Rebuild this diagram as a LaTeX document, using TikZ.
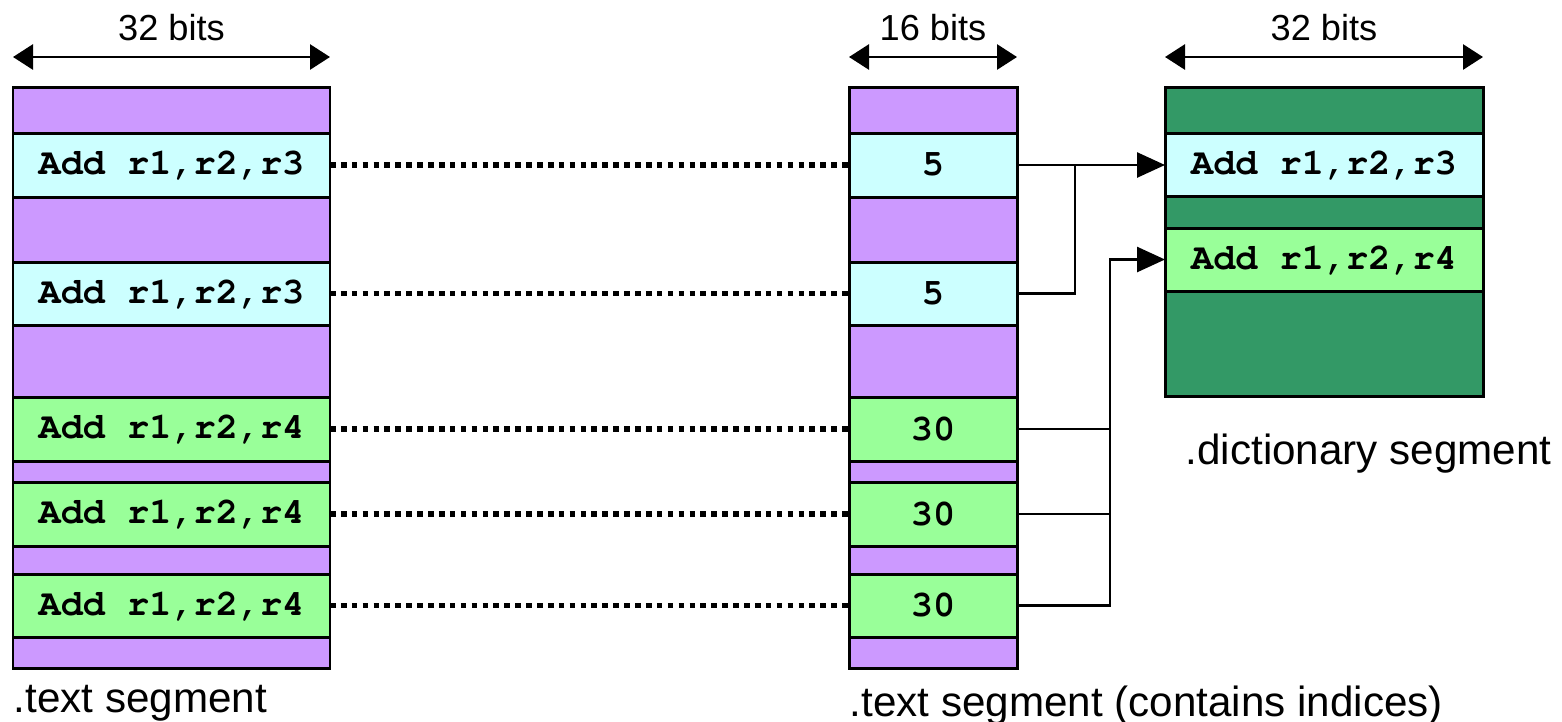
\documentclass[tikz,border=0pt]{standalone}
\usepackage[T1]{fontenc}
\usepackage{fontspec}
\setmainfont{Liberation Sans}
\usetikzlibrary{positioning, arrows.meta}
\definecolor{textpurple}{HTML}{CC99FF}
\definecolor{instcyan}{HTML}{CCFFFF}
\definecolor{instgreen}{HTML}{99FF99}
\definecolor{dictgreen}{HTML}{339966}
\newcommand{\instr}[1]{{\fontencoding{T1}\fontfamily{pcr}\fontseries{b}\selectfont #1}}

\begin{document}
\begin{tikzpicture}[
				slot/.style={draw, line width=0.85pt, rectangle, anchor=north west, inner sep=0pt, outer sep=0pt, font=\fontsize{10.5}{12}\selectfont},
				wide/.style={slot, minimum width=3.17cm},
				narrow/.style={slot, minimum width=1.68cm},
				dict/.style={slot, minimum width=3.18cm},
				dots/.style={line width=1.6pt, dash pattern=on 1.6pt off 1.5pt},
				link/.style={line width=0.75pt},
				ptr/.style={link, -{Triangle[length=0.28cm, width=0.25cm]}},
				dim/.style={line width=0.8pt, {Triangle[length=0.2cm, width=0.25cm]}-{Triangle[length=0.2cm, width=0.25cm]}},
				bits/.style={font=\fontsize{10.3}{12}\selectfont, inner sep=0pt},
				caption/.style={font=\fontsize{12}{14}\selectfont, inner sep=0pt}]
			
			\useasboundingbox (0,0) rectangle (15.62,-7.21);
			
			% .text segment, 32 bit words
			\node[wide, fill=textpurple, minimum height=0.46cm] (t1) at (0.13,-0.87) {};
			\node[wide, fill=instcyan, minimum height=0.64cm, below=0pt of t1] (t2) {\instr{Add r1,r2,r3}};
			\node[wide, fill=textpurple, minimum height=0.65cm, below=0pt of t2] (t3) {};
			\node[wide, fill=instcyan, minimum height=0.63cm, below=0pt of t3] (t4) {\instr{Add r1,r2,r3}};
			\node[wide, fill=textpurple, minimum height=0.72cm, below=0pt of t4] (t5) {};
			\node[wide, fill=instgreen, minimum height=0.64cm, below=0pt of t5] (t6) {\instr{Add r1,r2,r4}};
			\node[wide, fill=textpurple, minimum height=0.21cm, below=0pt of t6] (t7) {};
			\node[wide, fill=instgreen, minimum height=0.64cm, below=0pt of t7] (t8) {\instr{Add r1,r2,r4}};
			\node[wide, fill=textpurple, minimum height=0.28cm, below=0pt of t8] (t9) {};
			\node[wide, fill=instgreen, minimum height=0.63cm, below=0pt of t9] (t10) {\instr{Add r1,r2,r4}};
			\node[wide, fill=textpurple, minimum height=0.31cm, below=0pt of t10] (t11) {};
			
			% .text segment holding 16 bit indices
			\node[narrow, fill=textpurple, minimum height=0.46cm] (i1) at (8.49,-0.87) {};
			\node[narrow, fill=instcyan, minimum height=0.64cm, below=0pt of i1] (i2) {\instr{5}};
			\node[narrow, fill=textpurple, minimum height=0.65cm, below=0pt of i2] (i3) {};
			\node[narrow, fill=instcyan, minimum height=0.63cm, below=0pt of i3] (i4) {\instr{5}};
			\node[narrow, fill=textpurple, minimum height=0.72cm, below=0pt of i4] (i5) {};
			\node[narrow, fill=instgreen, minimum height=0.64cm, below=0pt of i5] (i6) {\instr{30}};
			\node[narrow, fill=textpurple, minimum height=0.21cm, below=0pt of i6] (i7) {};
			\node[narrow, fill=instgreen, minimum height=0.64cm, below=0pt of i7] (i8) {\instr{30}};
			\node[narrow, fill=textpurple, minimum height=0.28cm, below=0pt of i8] (i9) {};
			\node[narrow, fill=instgreen, minimum height=0.63cm, below=0pt of i9] (i10) {\instr{30}};
			\node[narrow, fill=textpurple, minimum height=0.31cm, below=0pt of i10] (i11) {};
			
			% .dictionary segment
			\node[dict, fill=dictgreen, minimum height=0.46cm] (d1) at (11.65,-0.87) {};
			\node[dict, fill=instcyan, minimum height=0.63cm, below=0pt of d1] (d2) {\instr{Add r1,r2,r3}};
			\node[dict, fill=dictgreen, minimum height=0.32cm, below=0pt of d2] (d3) {};
			\node[dict, fill=instgreen, minimum height=0.63cm, below=0pt of d3] (d4) {\instr{Add r1,r2,r4}};
			\node[dict, fill=dictgreen, minimum height=1.05cm, below=0pt of d4] (d5) {};
			
			% widths
			\draw[dim] ([yshift=0.3cm]t1.north west) -- node[bits, above=0.15cm] {32 bits} ([yshift=0.3cm]t1.north east);
			\draw[dim] ([yshift=0.3cm]i1.north west) -- node[bits, above=0.15cm] {16 bits} ([yshift=0.3cm]i1.north east);
			\draw[dim] ([yshift=0.3cm]d1.north west) -- node[bits, above=0.15cm] {32 bits} ([yshift=0.3cm]d1.north east);
			
			\node[caption, below=0.17cm of t11.south west, anchor=north west] (tcap) {.text segment};
			\node[caption, below=0.17cm of i11.south west, anchor=north west] (icap) {.text segment (contains indices)};
			\node[caption, below=0.37cm of d5.south west, anchor=north west, xshift=0.2cm] (dcap) {.dictionary segment};
			
			\draw[dots] (t2) -- (i2);
			\draw[dots] (t4) -- (i4);
			\draw[dots] (t6) -- (i6);
			\draw[dots] (t8) -- (i8);
			\draw[dots] (t10) -- (i10);
			
			\draw[ptr] (i2.east) -- (i2.east -| d2.west);
			\draw[link] (i4.east) -- ++(0.58,0) coordinate (j1) -- (j1 |- i2.east);
			
			\draw[link] (i6.east) -- ++(0.93,0);
			\draw[link] (i8.east) -- ++(0.93,0);
			\draw[ptr] (i10.east) -- ++(0.93,0) |- (d4.west);
			
		\end{tikzpicture}
\end{document}
